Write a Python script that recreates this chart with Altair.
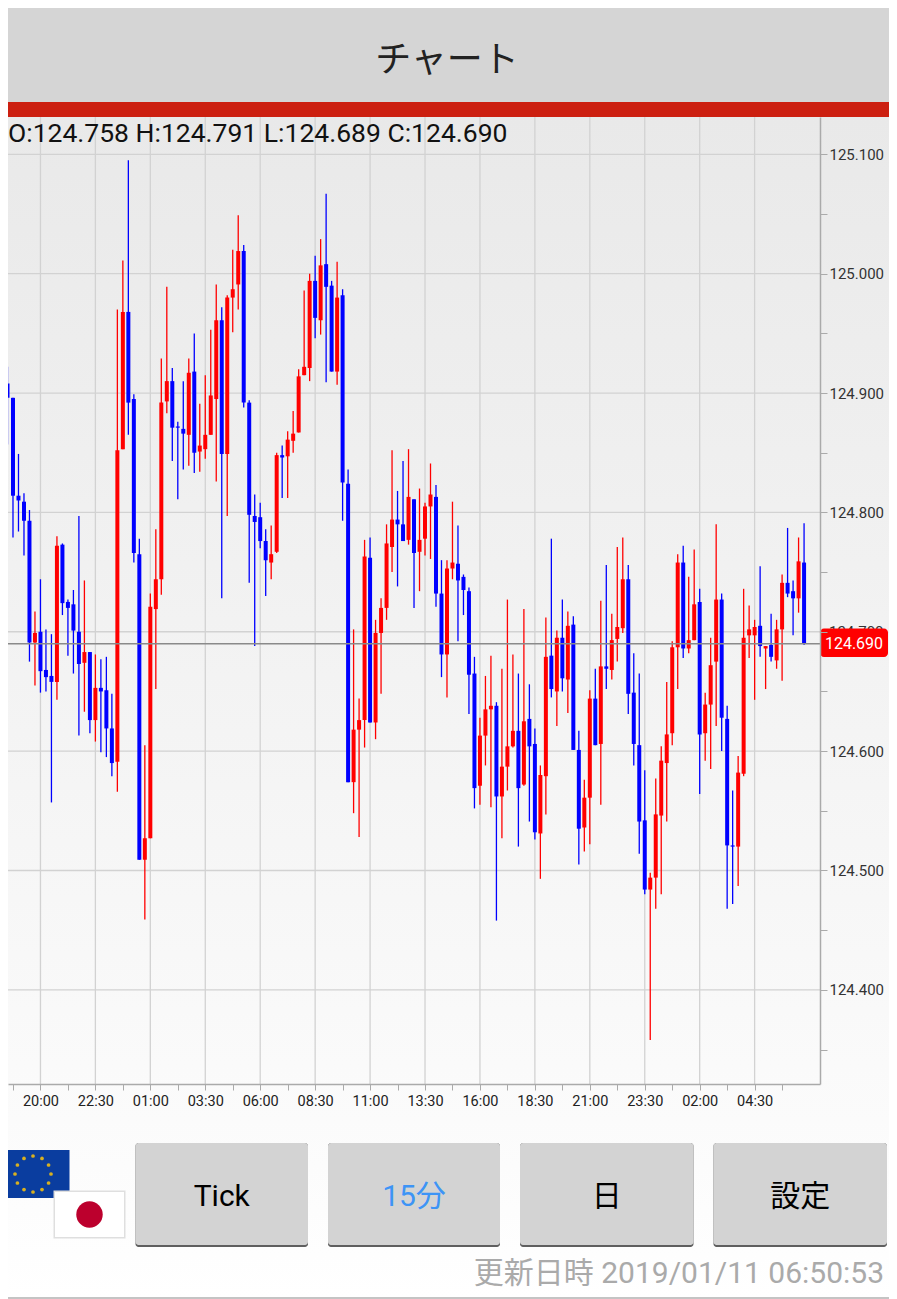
import altair as alt
import pandas as pd

# Candles, 15-minute EUR/JPY
opens = [124.864,124.908,124.896,124.814,124.809,124.793,124.691,124.700,124.668,124.663,124.658,124.773,124.725,124.723,124.700,124.674,124.683,124.626,124.653,124.651,124.619,
124.591,124.853,124.968,124.895,124.765,124.509,124.527,124.719,124.744,124.893,124.910,124.872,124.870,124.865,124.918,124.851,124.853,124.865,124.895,124.961,124.849,124.980,124.991,125.019,124.892,124.797,124.796,124.776,124.758,
124.767,124.848,124.847,124.860,124.867,124.915,124.921,124.994,124.961,125.008,124.990,124.918,124.982,124.824,124.574,124.618,124.626,124.762,124.624,124.699,124.720,124.771,124.794,124.790,124.777,124.811,124.767,124.778,124.805,124.813,124.732,124.681,124.753,124.757,124.746,124.734,124.665,124.571,124.613,124.635,124.638,124.562,124.587,124.604,124.617,124.572,124.627,124.606,124.531,124.579,
124.680,124.650,124.695,124.660,124.706,124.601,124.536,124.561,124.644,124.606,124.671,124.668,124.694,124.703,124.744,124.649,124.605,124.542,124.484,124.494,124.546,124.590,124.615,124.687,124.758,124.686,124.693,124.725,124.615,124.639,124.675,124.727,124.627,124.521,124.520,124.581,124.697,124.697,124.705,124.686,124.689,124.676,124.702,124.741,124.734,124.728,124.758]
highs = [124.944,124.922,124.896,124.849,124.816,124.802,124.717,124.744,124.702,124.698,124.780,124.774,124.727,124.735,124.797,124.743,124.683,124.681,124.677,124.679,124.648,
124.970,125.011,125.095,124.899,124.778,124.605,124.732,124.786,124.929,124.989,124.921,124.876,124.910,124.929,124.950,124.891,124.915,124.953,124.991,124.972,124.982,125.020,125.049,125.024,124.894,124.815,124.808,124.786,124.789,
124.850,124.856,124.868,124.885,124.920,124.986,125.000,125.015,125.029,125.067,124.994,125.010,124.987,124.836,124.702,124.644,124.777,124.779,124.710,124.728,124.790,124.852,124.818,124.843,124.853,124.811,124.820,124.808,124.841,124.823,124.760,124.760,124.809,124.789,124.748,124.737,124.679,124.628,124.663,124.680,124.641,124.669,124.727,124.681,124.665,124.719,124.656,124.619,124.588,124.712,
124.778,124.701,124.727,124.717,124.713,124.617,124.576,124.651,124.669,124.726,124.756,124.715,124.771,124.779,124.756,124.682,124.665,124.584,124.498,124.577,124.604,124.658,124.692,124.765,124.772,124.746,124.769,124.736,124.649,124.695,124.790,124.732,124.638,124.567,124.596,124.736,124.722,124.710,124.755,124.688,124.715,124.710,124.748,124.787,124.743,124.779,124.791]
lows = [124.860,124.857,124.779,124.784,124.764,124.675,124.655,124.649,124.650,124.557,124.643,124.714,124.680,124.665,124.613,124.633,124.615,124.608,124.599,124.595,124.579,
124.566,124.853,124.865,124.758,124.509,124.459,124.527,124.652,124.731,124.883,124.843,124.811,124.836,124.839,124.833,124.834,124.845,124.865,124.826,124.728,124.797,124.951,124.970,124.888,124.741,124.688,124.770,124.730,124.744,
124.766,124.812,124.812,124.850,124.867,124.915,124.910,124.946,124.949,124.909,124.918,124.907,124.793,124.574,124.548,124.528,124.603,124.624,124.610,124.648,124.710,124.750,124.738,124.776,124.773,124.720,124.734,124.764,124.761,124.721,124.662,124.645,124.744,124.692,124.714,124.631,124.552,124.555,124.588,124.553,124.458,124.527,124.567,124.603,124.520,124.571,124.541,124.526,124.493,124.547,
124.645,124.621,124.650,124.632,124.601,124.505,124.516,124.522,124.605,124.555,124.652,124.660,124.675,124.699,124.631,124.588,124.514,124.480,124.358,124.468,124.480,124.541,124.605,124.652,124.678,124.682,124.693,124.564,124.592,124.585,124.621,124.600,124.468,124.472,124.487,124.579,124.678,124.643,124.679,124.652,124.675,124.669,124.659,124.729,124.697,124.716,124.689]
closes = [124.908,124.896,124.814,124.810,124.793,124.691,124.699,124.667,124.662,124.658,124.772,124.724,124.720,124.701,124.673,124.683,124.626,124.653,124.650,124.619,124.590,
124.852,124.968,124.892,124.766,124.509,124.527,124.721,124.744,124.892,124.910,124.871,124.871,124.866,124.917,124.850,124.856,124.865,124.898,124.961,124.849,124.980,124.987,125.019,124.892,124.798,124.792,124.776,124.760,124.765,
124.848,124.846,124.861,124.866,124.914,124.922,124.994,124.963,125.007,124.989,124.918,124.980,124.825,124.574,124.618,124.626,124.763,124.624,124.699,124.720,124.774,124.794,124.790,124.776,124.813,124.766,124.777,124.805,124.815,124.732,124.681,124.753,124.758,124.743,124.735,124.664,124.569,124.613,124.635,124.638,124.562,124.587,124.604,124.617,124.569,124.625,124.604,124.532,124.580,124.679,
124.652,124.695,124.661,124.705,124.601,124.535,124.561,124.644,124.605,124.671,124.669,124.693,124.704,124.744,124.648,124.606,124.541,124.484,124.494,124.547,124.592,124.614,124.687,124.758,124.686,124.693,124.723,124.614,124.639,124.672,124.727,124.628,124.521,124.520,124.582,124.695,124.702,124.704,124.688,124.688,124.679,124.702,124.741,124.732,124.728,124.759,124.690]

price_ticks = [124.35,124.40,124.45,124.50,124.55,124.60,124.65,124.70,124.75,124.80,124.85,124.90,124.95,125.00,125.05,125.10]
price_grid = [124.40,124.50,124.60,124.70,124.80,124.90,125.00,125.10]
last_price = 124.690
ohlc_text = "O:124.758 H:124.791 L:124.689 C:124.690"
title_text = "チャート"
buttons = ["Tick", "15分", "日", "設定"]
updated_text = "更新日時 2019/01/11 06:50:53"

# Layout: page pixels of the plot area
PX0, PX1, PY0, PY1 = 8, 820, 117, 1084
W, H = PX1 - PX0, PY1 - PY0
SANS = "Roboto, 'Noto Sans CJK JP', 'Noto Sans'"
CJK = "'Noto Sans CJK JP', Roboto"

times = pd.date_range("2019-01-09 18:15", periods=len(opens), freq="15min")
df = pd.DataFrame({
    "time": times.strftime("%Y-%m-%dT%H:%M:%SZ"),
    "open": opens, "high": highs, "low": lows, "close": closes,
})
df["dir"] = ["up" if c > o else "down" for o, c in zip(opens, closes)]

T0 = pd.Timestamp("2019-01-09 18:15", tz="UTC").value // 10**6
Q = 15 * 60000
dom_x = [T0 + 1.092 * Q, T0 + 148.9 * Q]
tick_ms = [T0 + (i * 5 + 2) * Q for i in range(0, 29)]
L0 = T0 + 7 * Q

x_scale = alt.Scale(type="utc", domain=dom_x, padding=0, nice=False)
y_scale = alt.Scale(domain=[124.3211, 125.1313], nice=False, zero=False)
x_axis = alt.Axis(values=tick_ms, orient="bottom", title=None, grid=False, zindex=1,
                  labelExpr=f"(datum.value - {L0}) % {10 * Q} == 0 ? utcFormat(datum.value, '%H:%M') : ''",
                  labelFont=SANS, labelFontSize=14.5, labelColor="#222222", labelPadding=4,
                  tickColor="#aaaaaa", tickSize=6, tickWidth=1, domainColor="#aaaaaa", domainWidth=1.5,
                  labelOverlap=False, labelFlush=False, labelBound=False)
y_axis = alt.Axis(values=price_ticks, orient="right", title=None, grid=False, zindex=1,
                  labelExpr="(round(datum.value * 1000) % 100 == 0 && round(datum.value * 1000) != 124700) ? format(datum.value, '.3f') : ''",
                  labelFont=SANS, labelFontSize=15, labelColor="#333333", labelPadding=2,
                  tickColor="#aaaaaa", tickSize=7, tickWidth=1, domainColor="#aaaaaa", domainWidth=1.5,
                  labelOverlap=False, labelBound=False)
col = alt.Color("dir:N", scale=alt.Scale(domain=["up", "down"], range=["#ff0000", "#0000ff"]), legend=None)

one = alt.Data(values=[{"a": 0}])


def gx(v):
    return alt.value(v - PX0)


def gy(v):
    return alt.value(v - PY0)


def box(x1, y1, x2, y2, color, **kw):
    return alt.Chart(one).mark_rect(color=color, **kw).encode(x=gx(x1), x2=gx(x2), y=gy(y1), y2=gy(y2))


def label(s, x, y, size, color, align="center", font=SANS, **kw):
    return alt.Chart(one).mark_text(text=s, fontSize=size, color=color, align=align, baseline="middle", font=font, **kw).encode(x=gx(x), y=gy(y))


page_bg = box(0, 117, 897, 1299, alt.Gradient(
    gradient="linear", x1=0, y1=0, x2=0, y2=1,
    stops=[alt.GradientStop(offset=0, color="#e9e9e9"), alt.GradientStop(offset=0.85, color="#fbfbfb"), alt.GradientStop(offset=1, color="#ffffff")]))
header = box(0, 0, 897, 102, "#d5d5d5")
redbar = box(0, 102, 897, 117, "#cc1f10")
foot_line = box(0, 1297, 897, 1299, "#c4c4c4")

grid_h = alt.Chart(pd.DataFrame({"p": price_grid})).mark_rule(color="#d2d2d2", strokeWidth=1.3).encode(
    y=alt.Y("p:Q", scale=y_scale, axis=y_axis), x=alt.value(0), x2=alt.value(W))
grid_v = alt.Chart(pd.DataFrame({"t": [m for m in tick_ms if (m - L0) % (10 * Q) == 0]})).mark_rule(color="#d2d2d2", strokeWidth=1.3).encode(
    x=alt.X("t:T", scale=x_scale, axis=x_axis), y=alt.value(0), y2=alt.value(H))

wicks = alt.Chart(df).mark_rule(strokeWidth=1.3).encode(
    x=alt.X("time:T", scale=x_scale, axis=x_axis),
    y=alt.Y("low:Q", scale=y_scale, axis=y_axis),
    y2="high:Q", color=col)
bodies = alt.Chart(df).mark_bar(size=4).encode(
    x=alt.X("time:T", scale=x_scale, axis=x_axis), y=alt.Y("open:Q", scale=y_scale, axis=y_axis), y2="close:Q", color=col)

price_line = alt.Chart(pd.DataFrame({"p": [last_price]})).mark_rule(color="#8a8a8a", strokeWidth=1.6).encode(
    y=alt.Y("p:Q", scale=y_scale, axis=y_axis), x=alt.value(0), x2=alt.value(W))
hidden_700 = alt.Chart(pd.DataFrame({"p": [124.700], "s": ["124.700"]})).mark_text(
    fontSize=15, font=SANS, color="#333333", align="left", baseline="middle").encode(
    y=alt.Y("p:Q", scale=y_scale, axis=y_axis), x=gx(829), text="s:N")
pill = box(820, 628.5, 888, 657, "#ff0000", cornerRadius=4)
pill_text = alt.Chart(pd.DataFrame({"s": [f"{last_price:.3f}"]})).mark_text(
    fontSize=16, font=SANS, color="#ffffff", align="center", baseline="middle").encode(
    y=gy(643.5), x=gx(854), text="s:N")

layers = [page_bg, header, redbar, foot_line, grid_h, grid_v, wicks, bodies, hidden_700, price_line, pill, pill_text,
          label(title_text, 447, 60.5, 36, "#222222", font=CJK),
          label(ohlc_text, 8, 134, 26.5, "#111111", align="left")]

# Buttons
btn_x = [(135.5, 308), (328, 500), (520, 693.5), (713.5, 887)]
btn_c = ["#000000", "#3d94f6", "#000000", "#000000"]
for (a, b), s, c in zip(btn_x, buttons, btn_c):
    layers.append(box(a, 1143, b, 1247, "#5f5f5f", cornerRadius=3))
    layers.append(box(a, 1143, b, 1245, "#d3d3d3", cornerRadius=3))
    layers.append(label(s, (a + b) / 2, 1197, 30, c))

# Flags
layers.append(box(0, 1150, 69.5, 1198, "#0a3d9f"))
ring = [(33 + 18 * dx, 1174 + 18 * dy) for dx, dy in [(0, -1), (.5, -.866), (.866, -.5), (1, 0), (.866, .5), (.5, .866), (0, 1), (-.5, .866), (-.866, .5), (-1, 0), (-.866, -.5), (-.5, -.866)]]
for sx, sy in ring:
    layers.append(alt.Chart(one).mark_point(filled=True, shape="circle", size=14, color="#d8b020", opacity=1).encode(x=gx(sx), y=gy(sy)))
layers.append(box(53.5, 1190.5, 125.5, 1238.5, "#dfdfdf"))
layers.append(box(55, 1192, 124, 1237, "#ffffff"))
layers.append(alt.Chart(one).mark_point(filled=True, shape="circle", size=700, color="#bc002d", opacity=1).encode(x=gx(89.5), y=gy(1214.5)))

layers.append(label(updated_text, 884, 1274, 30, "#aaaaaa", align="right"))

chart = alt.layer(*layers).resolve_scale(x="shared", y="shared").properties(
    width=W, height=H,
    padding={"left": 0, "top": PY0 - 8, "right": 889 - PX1, "bottom": 1299 - PY1},
    autosize=alt.AutoSizeParams(type="none"),
    background="#ffffff",
).configure_view(stroke=None)

chart.save("out.html", embed_options={"renderer": "svg", "actions": False})
